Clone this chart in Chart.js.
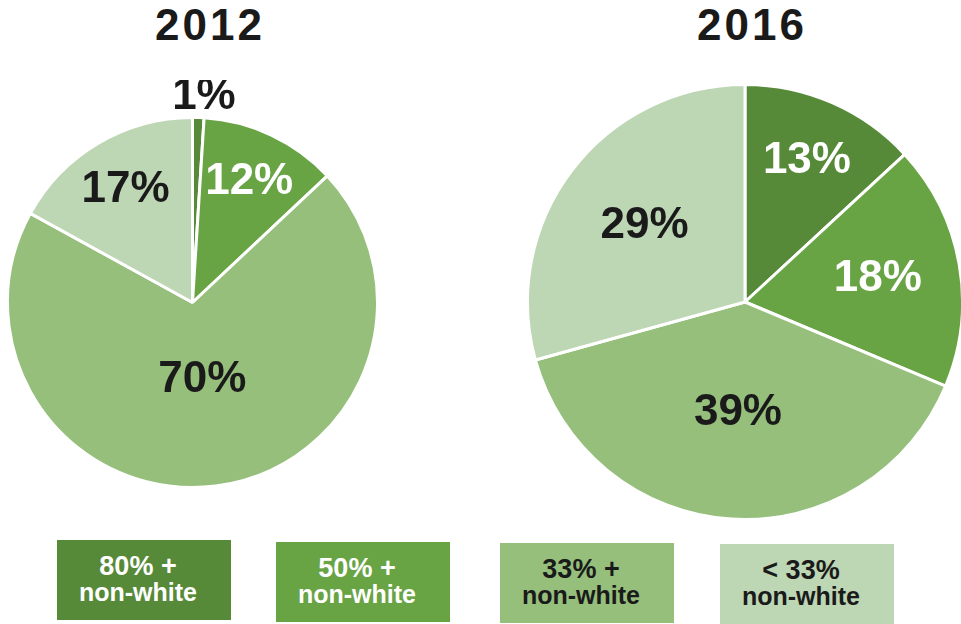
<!DOCTYPE html>
<html>
<head>
<meta charset="utf-8">
<script src="https://cdn.jsdelivr.net/npm/chart.js@4.4.1/dist/chart.umd.min.js"></script>
<style>
  body { margin: 0; width: 961px; height: 624px; background: #fff; overflow: hidden; position: relative; font-family: "Liberation Sans", Arial, sans-serif; }
  .title { position: absolute; top: 0px; font-size: 44px; font-weight: bold; color: #1a1a1a; width: 200px; text-align: center; letter-spacing: 3px; }
  canvas { position: absolute; }
  .box { position: absolute; height: 80px; text-align: center; font-weight: bold; line-height: 1.0; box-sizing: border-box; padding-top: 13px; padding-right: 12px; }
  .box .a { font-size: 27px; }
  .box .b { font-size: 25px; }
</style>
</head>
<body>
<div class="title" style="left:110px">2012</div>
<div class="title" style="left:652px">2016</div>
<div style="position:absolute;left:3px;top:80px;width:380px;height:420px"><canvas id="pie2012"></canvas></div>
<div style="position:absolute;left:523px;top:80px;width:444px;height:444px"><canvas id="pie2016"></canvas></div>
<div id="legend"></div>
<script>
// categories and values
const categories = ['80% + non-white', '50% + non-white', '33% + non-white', '< 33% non-white'];
const values2012 = [1, 12, 70, 17];
const values2016 = [13, 18, 39, 29];
const colors = ['#568a38', '#68a444', '#95bf7b', '#bdd6b4'];
const textColors = ['#ffffff', '#ffffff', '#1a1a1a', '#1a1a1a'];

// draws the percentage labels inside (or just outside) each slice
const sliceLabels = {
    id: 'sliceLabels',
    afterDatasetsDraw(chart, args, opts) {
        const ctx = chart.ctx;
        const meta = chart.getDatasetMeta(0);
        ctx.save();
        ctx.font = 'bold 44px "Liberation Sans", Arial, sans-serif';
        ctx.textAlign = 'center';
        ctx.textBaseline = 'middle';
        meta.data.forEach((arc, i) => {
            const mid = (arc.startAngle + arc.endAngle) / 2;
            const r = arc.outerRadius * opts.factors[i];
            const x = arc.x + Math.cos(mid) * r + (opts.dx ? opts.dx[i] : 0);
            const y = arc.y + Math.sin(mid) * r;
            ctx.fillStyle = opts.outside && opts.outside[i] ? '#1a1a1a' : textColors[i];
            ctx.fillText(chart.data.datasets[0].data[i] + '%', x, y);
        });
        ctx.restore();
    }
};

function createPie(id, values, factors, padding, extra) {
    const ctx = document.getElementById(id).getContext('2d');
    new Chart(ctx, {
        type: 'pie',
        data: {
            labels: categories,
            datasets: [{
                data: values,
                backgroundColor: colors,
                borderColor: '#ffffff',
                borderWidth: 3
            }]
        },
        options: {
            responsive: true,
            maintainAspectRatio: false,
            animation: false,
            layout: { padding: padding },
            plugins: {
                legend: { display: false },
                tooltip: { enabled: false },
                sliceLabels: Object.assign({ factors: factors }, extra || {})
            }
        },
        plugins: [sliceLabels]
    });
}

createPie('pie2012', values2012, [1.11, 0.72, 0.42, 0.71],
    { top: 36, bottom: 11, left: 3, right: 4 },
    { outside: [true, false, false, false], dx: [5, 0, 0, 0] });
createPie('pie2016', values2016, [0.71, 0.62, 0.51, 0.58], 3);

// legend boxes
const boxLefts = [57, 276, 500, 720];
const boxTops = [540, 542, 543, 544];
const legendTop = ['80% +', '50% +', '33% +', '< 33%'];
const legend = document.getElementById('legend');
categories.forEach((c, i) => {
    const div = document.createElement('div');
    div.className = 'box';
    div.style.left = boxLefts[i] + 'px';
    div.style.top = boxTops[i] + 'px';
    div.style.width = '174px';
    div.style.background = colors[i];
    div.style.color = textColors[i];
    div.innerHTML = '<div class="a">' + legendTop[i] + '</div><div class="b">non-white</div>';
    legend.appendChild(div);
});
</script>
</body>
</html>
